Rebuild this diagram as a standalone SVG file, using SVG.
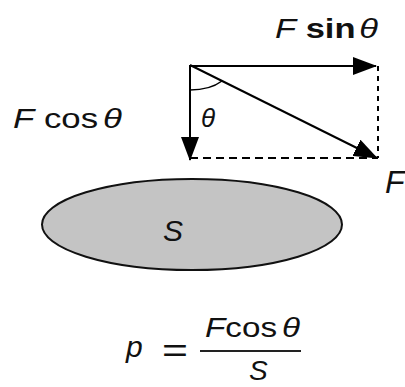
<svg xmlns="http://www.w3.org/2000/svg" width="405" height="387" viewBox="0 0 405 387">
<defs>
<marker id="ah" markerUnits="userSpaceOnUse" markerWidth="24" markerHeight="18" viewBox="0 0 24 18" refX="23" refY="9" orient="auto"><path d="M0,0 L24,9 L0,18 z" fill="#000"/></marker>
</defs>
<style>
text{font-family:"Liberation Sans",Arial,sans-serif;fill:#111}
.it{font-style:italic}
.b{font-weight:bold}
.arrow{stroke:#000;stroke-width:2;fill:none;marker-end:url(#ah)}
.dash{stroke:#000;stroke-width:2;fill:none}
</style>
<rect width="405" height="387" fill="#fff"/>
<g id="connectors">
<line class="dash" x1="190" y1="158" x2="378" y2="158" stroke-dasharray="8,5"/>
<line class="dash" x1="378" y1="66" x2="378" y2="158" stroke-dasharray="5,5"/>
<line class="arrow" x1="190" y1="66" x2="376" y2="66"/>
<line class="arrow" x1="190" y1="65" x2="190" y2="160"/>
<line class="arrow" x1="190" y1="65" x2="377" y2="158" stroke-width="3"/>
<path d="M190,90 Q210,90 222,81" stroke="#000" stroke-width="1.5" fill="none"/>
</g>
<g id="labels">
<text x="275" y="38" font-size="28" textLength="103" lengthAdjust="spacingAndGlyphs"><tspan class="it">F</tspan> <tspan class="b">sin</tspan><tspan class="it" dx="3">θ</tspan></text>
<text x="13" y="128" font-size="28" textLength="109" lengthAdjust="spacingAndGlyphs"><tspan class="it">F</tspan> cos<tspan class="it" dx="4">θ</tspan></text>
<text x="201" y="127" font-size="26" class="it">θ</text>
<text x="385" y="193" font-size="32" class="it">F</text>
</g>
<g id="surface">
<ellipse cx="192" cy="224.5" rx="150" ry="45.5" fill="#c4c4c4" stroke="#111" stroke-width="2"/>
<text x="163" y="241" font-size="30" class="it">S</text>
</g>
<g id="formula">
<text x="126" y="357" font-size="30" class="it">p</text>
<text x="162" y="362" font-size="34" textLength="26" lengthAdjust="spacingAndGlyphs">=</text>
<line x1="200" y1="351" x2="301" y2="351" stroke="#222" stroke-width="2"/>
<text x="205" y="337" font-size="27" textLength="95" lengthAdjust="spacingAndGlyphs"><tspan class="it">F</tspan>cos<tspan class="it" dx="4">θ</tspan></text>
<text x="249" y="380" font-size="28" class="it">S</text>
</g>
</svg>
